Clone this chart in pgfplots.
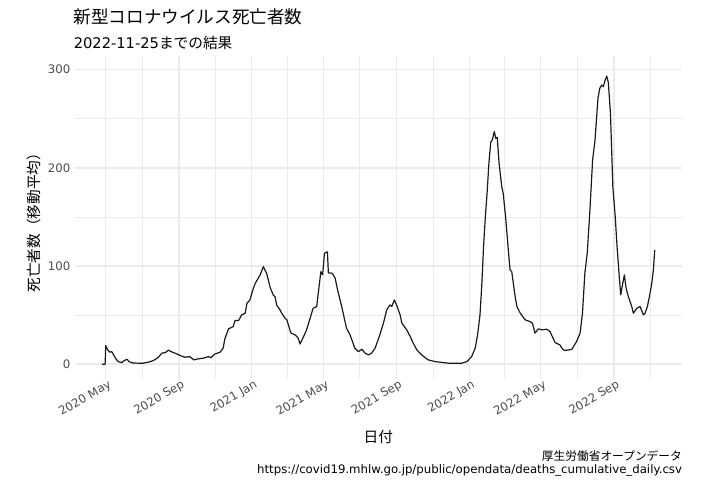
\documentclass[border=0pt]{standalone}
\usepackage{pgfplots}
\pgfplotsset{compat=1.18}
\usepackage{pgfplotstable}
\usepackage{fontspec}
\setmainfont{Noto Sans CJK JP}
\newfontfamily\latinfont{DejaVu Sans}
\definecolor{tickgray}{HTML}{4D4D4D}
\definecolor{gridgray}{HTML}{EBEBEB}
\definecolor{linecol}{HTML}{1A1A1A}
% x: days since 2020-05-01, y: 7-day moving average of deaths
\pgfplotstableread{
d v
-6 0
-1 0
0 19
3 14.6
7 12.2
10 12.8
13 9.8
17 5.4
21 2.6
27 1.6
31 3.7
36 5.0
39 2.6
45 1.3
55 1.0
63 1.0
71 2.0
80 3.7
88 6.7
94 11.2
100 11.8
105 14.3
111 12.5
119 10.5
126 8.5
133 7.1
141 7.7
148 4.4
155 5.4
164 6.1
172 7.7
177 6.7
183 10.3
192 12.2
197 16.3
200 26
206 36
214 38.3
217 44.4
223 44.4
228 50.2
234 52
237 62
242 65.5
247 76
251 82.5
256 87.6
259 91
264.5 99.4
267 96
270 92.7
276 78
281 70.6
284 68.8
287 60
292.5 55.3
295.4 51.9
301 46.8
304 45.1
309 34.9
311 31.6
318 29.8
323 26.5
326 20.5
332 28.1
337 34.9
343 46.8
348 57
354 58.7
357 74
361 94.3
364 91
367 113
372 114.5
373.6 93
380 92.7
385 87.6
389 75.7
396 58.7
404 36.7
410 29.8
418 16.3
424 12.8
430 15.3
435 11.2
441 9.5
446 11.2
452 16.3
460 30
466 41.8
471.5 55.3
477 60.4
480 58.7
484.3 65.5
488 60.4
494 50.2
497 41.8
505 35
511 28.1
516 21.4
522 14.6
530 9.5
541 4.4
553 2.6
575 1
597 1
606 2.6
614 7.7
620 16.3
624 30
628 50
631 80
634 120
637 150
640 175
643 205
646 226
649 229
652 237
654.5 230
657 231
660 205
664.5 181
667 174
671 150
675.6 116
678.5 96
681.3 94.3
687 68.8
690 58.7
695.6 52
704 45.1
712 43.4
716 41.8
720.4 31.6
726 36
731.7 35
740 35.6
745.6 33.2
754 22
762 19.7
767 15
771 14
782 15
790 23
796 31.6
800 52
804 92.7
808 113
812.5 157
817 208
821 228
826 271
829 281
832.4 284.4
835 282.7
838 289.5
840.7 293.5
843.4 287
847 255
851 180
855 150
858 120
862 87
864.2 70.6
867.6 82.5
870.3 91
873.2 77.4
877 68.8
882.7 58.7
885.4 51.9
891.1 57
896.7 58.7
902.2 50.2
905 51.9
908.9 58.7
912.3 68.8
916.3 82.5
919 96
921.3 116.4
}\deaths
\begin{document}
\begin{tikzpicture}
\begin{axis}[
  at={(55.875pt,-283.875pt)}, anchor=south west,
  scale only axis, width=455.8pt, height=241.9pt,
  xmin=-52.4, xmax=967.4, ymin=-14.6, ymax=314,
  axis line style={draw=none},
  tick style={draw=none}, major tick length=0pt, minor tick length=0pt,
  xtick={0,123,245,365,488,610,730,853},
  xticklabels={2020 May,2020 Sep,2021 Jan,2021 May,2021 Sep,2022 Jan,2022 May,2022 Sep},
  minor xtick={61,184,304,426,549,669,791,914},
  ytick={0,100,200,300}, minor ytick={50,150,250},
  grid=both,
  major grid style={draw=gridgray, line width=1.07pt},
  minor grid style={draw=gridgray, line width=0.53pt},
  /pgf/number format/assume math mode=true,
  ticklabel style={font=\latinfont\fontsize{8.8}{10}\selectfont, text=tickgray},
  xticklabel style={rotate=30, anchor=north east, inner sep=1pt, yshift=0pt, xshift=2pt},
  yticklabel style={anchor=east, inner sep=1pt, xshift=-2pt},
]
\addplot[linecol, line width=0.9pt, line join=round, mark=none] table[x=d, y=v] {\deaths};
\end{axis}
\node[anchor=base west, inner sep=0pt, font=\fontsize{13.2}{15}\selectfont] at (73.5*0.75pt,-23*0.75pt) {新型コロナウイルス死亡者数};
\node[anchor=base west, inner sep=0pt, font=\fontsize{11}{13}\selectfont] at (73.5*0.75pt,-48.5*0.75pt) {{\latinfont 2022-11-25}までの結果};
\node[anchor=center, inner sep=0pt, rotate=90, font=\fontsize{11}{13}\selectfont] at (33.5*0.75pt,-219*0.75pt) {死亡者数（移動平均）};
\node[anchor=base, inner sep=0pt, font=\fontsize{11}{13}\selectfont] at (378.3*0.75pt,-442*0.75pt) {日付};
\node[anchor=base east, inner sep=0pt, font=\fontsize{8.8}{10}\selectfont] at (682.2*0.75pt,-460*0.75pt) {厚生労働省オープンデータ};
\node[anchor=base east, inner sep=0pt, font=\latinfont\fontsize{8.8}{10}\selectfont] at (682.2*0.75pt,-473*0.75pt) {https://covid19.mhlw.go.jp/public/opendata/deaths\_cumulative\_daily.csv};
\pgfresetboundingbox
\path (0pt,0pt) rectangle (531.75pt,-364.5pt);
\end{tikzpicture}
\end{document}
